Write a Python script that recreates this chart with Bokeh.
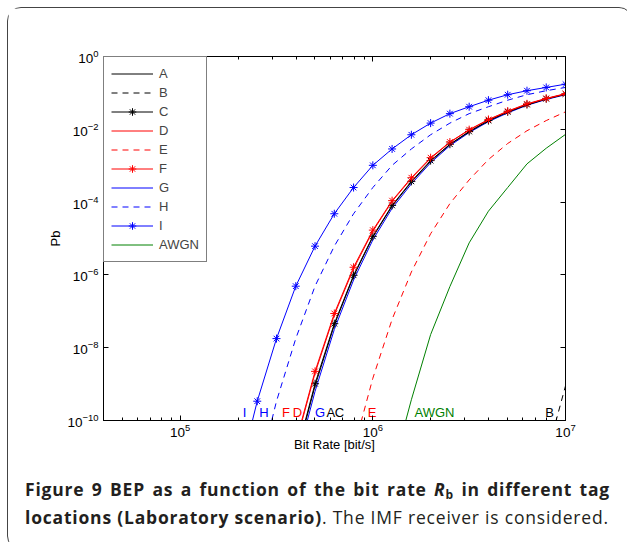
import numpy as np
from bokeh.plotting import figure
from bokeh.models import LogAxis, FixedTicker, Legend, LegendItem, Div
from bokeh.layouts import column
from bokeh.embed import file_html
from bokeh.resources import INLINE
from bokeh.core.properties import value

# ---------------- data ----------------
bit_rate = [1.995e5, 2.512e5, 3.162e5, 3.981e5, 5.012e5, 6.310e5, 7.943e5, 1.0e6,
            1.259e6, 1.585e6, 1.995e6, 2.512e6, 3.162e6, 3.981e6, 5.012e6, 6.310e6,
            7.943e6, 1.0e7]

# log10(Pb) for every tag location
log_pb_A = [-18.9, -15.9, -13.25, -11.05, -9.05, -7.38, -6.04, -4.96, -4.11, -3.45,
            -2.88, -2.42, -2.07, -1.77, -1.53, -1.33, -1.17, -1.04]
log_pb_B = [-60.0, -56.0, -52.0, -48.0, -44.0, -40.0, -36.0, -33.0, -30.0, -27.0,
            -24.0, -21.5, -19.3, -17.2, -15.3, -13.1, -11.0, -9.05]
log_pb_C = [-18.8, -15.8, -13.2, -11.0, -8.99, -7.34, -6.01, -4.94, -4.09, -3.43,
            -2.86, -2.41, -2.06, -1.76, -1.52, -1.32, -1.16, -1.03]
log_pb_D = [-18.5, -15.5, -12.9, -10.65, -8.70, -7.10, -5.83, -4.80, -3.98, -3.35,
            -2.80, -2.36, -2.02, -1.74, -1.51, -1.31, -1.16, -1.03]
log_pb_E = [-26.0, -23.0, -20.0, -17.2, -14.9, -12.7, -10.8, -8.84, -7.22, -5.92,
            -4.87, -4.04, -3.39, -2.83, -2.39, -2.04, -1.76, -1.52]
log_pb_F = [-18.4, -15.4, -12.8, -10.6, -8.65, -7.06, -5.79, -4.77, -3.96, -3.33,
            -2.78, -2.35, -2.01, -1.73, -1.50, -1.30, -1.15, -1.02]
log_pb_G = [-19.1, -16.1, -13.45, -11.2, -9.20, -7.50, -6.14, -5.04, -4.17, -3.50,
            -2.92, -2.45, -2.09, -1.79, -1.55, -1.34, -1.18, -1.05]
log_pb_H = [-13.8, -11.6, -9.47, -7.75, -6.31, -5.21, -4.32, -3.60, -2.99, -2.54,
            -2.15, -1.83, -1.57, -1.38, -1.20, -1.05, -0.94, -0.85]
log_pb_I = [-11.6, -9.47, -7.75, -6.31, -5.21, -4.32, -3.60, -2.99, -2.54, -2.15,
            -1.83, -1.57, -1.38, -1.20, -1.05, -0.94, -0.85, -0.76]
log_pb_AWGN = [-34.0, -31.0, -28.0, -25.0, -22.0, -19.0, -16.2, -13.7, -11.4, -9.43,
               -7.64, -6.32, -5.12, -4.25, -3.60, -2.95, -2.52, -2.14]

series_names = ["A", "B", "C", "D", "E", "F", "G", "H", "I", "AWGN"]
series_logs = [log_pb_A, log_pb_B, log_pb_C, log_pb_D, log_pb_E, log_pb_F,
               log_pb_G, log_pb_H, log_pb_I, log_pb_AWGN]

# curve tags written along the 1e-10 floor
curve_tag_text = ["I", "H", "F", "D", "G", "A", "C", "E", "AWGN", "B"]
curve_tag_rate = [2.16e5, 2.72e5, 3.54e5, 4.06e5, 5.32e5, 6.05e5, 6.71e5, 9.9e5, 2.09e6, 8.26e6]

x_major = [1e5, 1e6, 1e7]
x_minor = [4e4, 5e4, 6e4, 7e4, 8e4, 9e4,
           2e5, 3e5, 4e5, 5e5, 6e5, 7e5, 8e5, 9e5,
           2e6, 3e6, 4e6, 5e6, 6e6, 7e6, 8e6, 9e6]
y_major = [1e-10, 1e-8, 1e-6, 1e-4, 1e-2, 1e0]

# ---------------- styles ----------------
BLUE, RED, BLACK, GREEN = "#0000ff", "#ff0000", "#000000", "#008000"
style = {
    "A": (BLACK, "solid", False),
    "B": (BLACK, "6 5", False),
    "C": (BLACK, "solid", True),
    "D": (RED, "solid", False),
    "E": (RED, "6 5", False),
    "F": (RED, "solid", True),
    "G": (BLUE, "solid", False),
    "H": (BLUE, "6 5", False),
    "I": (BLUE, "solid", True),
    "AWGN": (GREEN, "solid", False),
}
tag_colors = {"I": BLUE, "H": BLUE, "F": RED, "D": RED, "G": BLUE, "A": BLACK,
              "C": BLACK, "E": RED, "AWGN": GREEN, "B": BLACK}
FONT = "Liberation Sans"

p = figure(x_axis_type="log", y_axis_type="log",
           x_range=(4e4, 1e7), y_range=(1e-10, 1e0),
           frame_width=462, frame_height=364,
           min_border_left=95, min_border_right=57, min_border_top=48, min_border_bottom=50,
           output_backend="svg", toolbar_location=None,
           background_fill_color="white", border_fill_color="white")
p.grid.visible = False
p.outline_line_color = "black"
p.outline_line_width = 1

items = []
draw_order = ["AWGN", "B", "E", "H", "I", "G", "A", "C", "D", "F"]
renderers = {}
for name in draw_order:
    vals = series_logs[series_names.index(name)]
    pb = [10.0 ** v for v in vals]
    color, dash, marker = style[name]
    r = [p.line(bit_rate, pb, line_color=color, line_width=1, line_dash=dash)]
    if marker:
        r.append(p.scatter(bit_rate, pb, marker="asterisk", size=8,
                           line_color=color, line_width=1))
    renderers[name] = r
for name in series_names:
    items.append(LegendItem(label=name, renderers=renderers[name]))

legend = Legend(items=items, location="top_left", margin=0, padding=7, spacing=0,
                glyph_width=42, glyph_height=19, label_height=19, label_standoff=6,
                label_text_font=FONT, label_text_font_size="13px",
                border_line_color="black", border_line_width=1,
                background_fill_color="white", background_fill_alpha=1.0)
p.add_layout(legend)

# curve tags
tag_level = 1.7e-10
p.text(x=curve_tag_rate, y=[tag_level] * len(curve_tag_rate), text=curve_tag_text,
       text_color=[tag_colors[t] for t in curve_tag_text],
       text_align="center", text_baseline="middle",
       text_font=value(FONT), text_font_size="13px")

# axes
for ax in [p.xaxis[0], p.yaxis[0]]:
    ax.major_tick_in = 5
    ax.major_tick_out = 0
    ax.minor_tick_in = 3
    ax.minor_tick_out = 0
    ax.axis_line_color = "black"
    ax.major_label_text_font = FONT
    ax.major_label_text_font_size = "13.5px"
    ax.major_label_text_color = "black"
    ax.axis_label_text_font = FONT
    ax.axis_label_text_font_size = "13px"
    ax.axis_label_text_font_style = "normal"
    ax.axis_label_text_color = "black"

p.xaxis[0].ticker = FixedTicker(ticks=x_major, minor_ticks=x_minor)
p.yaxis[0].ticker = FixedTicker(ticks=y_major, minor_ticks=[])
p.xaxis[0].axis_label = "Bit Rate [bit/s]"
p.yaxis[0].axis_label = "Pb"
p.xaxis[0].major_label_standoff = 3
p.xaxis[0].axis_label_standoff = -3
p.yaxis[0].major_label_standoff = 5
p.yaxis[0].axis_label_standoff = 1

top = LogAxis(ticker=FixedTicker(ticks=x_major, minor_ticks=x_minor),
              major_tick_in=5, major_tick_out=0, minor_tick_in=3, minor_tick_out=0,
              major_label_text_font_size="6px", major_label_text_alpha=0,
              major_label_standoff=0, axis_line_color="black")
right = LogAxis(ticker=FixedTicker(ticks=y_major, minor_ticks=[]),
                major_tick_in=5, major_tick_out=0, minor_tick_in=0, minor_tick_out=0,
                major_label_text_font_size="6px", major_label_text_alpha=0,
                major_label_standoff=0, axis_line_color="black")
p.add_layout(top, "above")
p.add_layout(right, "right")

caption_html = (
    '<div style="font-family:\'Open Sans\';font-size:17.5px;line-height:28px;'
    'letter-spacing:0.8px;color:#231f20;padding:0 0 0 12px;width:597px;">'
    '<div style="text-align:justify;text-align-last:justify;font-weight:bold;">'
    'Figure 9 BEP as a function of the bit rate <i>R</i>'
    '<sub style="font-size:12px;line-height:0;vertical-align:-0.25em;">b</sub>'
    ' in different tag</div>'
    '<div style="white-space:nowrap;"><b>locations (Laboratory scenario)</b>. '
    'The IMF receiver is considered.</div>'
    '</div>'
)
cap = Div(text=caption_html, width=614, height=69)

layout = column(p, cap, styles={"border": "1.5px solid #444", "border-radius": "14px",
                                "box-sizing": "border-box", "background": "white",
                                "margin": "7px 0 0 7px"})

open("out.html", "w").write(file_html(layout, INLINE))
